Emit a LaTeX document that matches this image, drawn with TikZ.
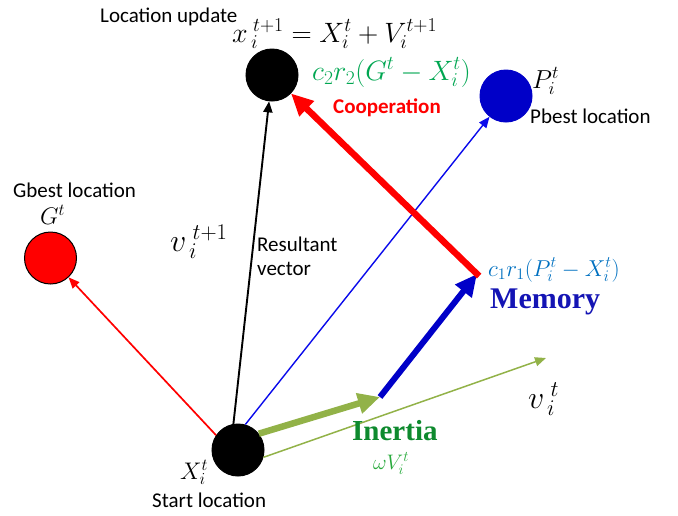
\RequirePackage{fix-cm}
\documentclass[tikz,border=0pt]{standalone}
\usepackage{fontspec}
\setmainfont{Carlito}
\newfontfamily\timesbf{Liberation Serif}
\usetikzlibrary{arrows.meta}
\definecolor{cred}{RGB}{255,0,0}
\definecolor{cbluedark}{RGB}{0,0,200}
\definecolor{cbluethin}{RGB}{10,10,235}
\definecolor{colive}{RGB}{146,178,72}
\definecolor{cgreenlab}{RGB}{0,166,81}
\definecolor{cinertia}{RGB}{14,138,46}
\definecolor{comega}{RGB}{40,170,60}
\definecolor{cmemlab}{RGB}{0,112,192}
\definecolor{cmemory}{RGB}{20,20,180}
\newcommand{\fs}[1]{\fontsize{#1}{#1}\selectfont}
\begin{document}
\begin{tikzpicture}[x=1pt,y=-1pt,
  particle/.style={circle,minimum size=52pt,inner sep=0pt,line width=1pt},
  thinarrow/.style={line width=1.7pt,-{Triangle[length=11pt,width=9pt]}},
  thickarrow/.style={line width=6.5pt,-{Triangle[length=22pt,width=20pt]}},
  sanslab/.style={inner sep=0pt,anchor=base west,font=\fs{21}},
  mathlab/.style={inner sep=0pt,anchor=base west}]
\useasboundingbox (0,0) rectangle (678,515);
% particles
\node[particle,fill=black,draw=black] (top) at (272,75) {};
\node[particle,fill=cbluedark,draw=cbluedark] (pbest) at (506,96) {};
\node[particle,fill=cred,draw=black] (gbest) at (50.5,258) {};
\node[particle,fill=black,draw=black] (start) at (238,450) {};
% helper coordinates
\coordinate (inert) at (380,397);
\coordinate (mem) at (477,274);
\coordinate (vt) at (546,358);
% thin arrows
\draw[thinarrow,cred] (start.146) -- (gbest);
\draw[thinarrow,black,line width=1.9pt] (start.100) -- (top);
\draw[thinarrow,cbluethin,line width=1.4pt] (start.74) -- (pbest);
\draw[thinarrow,colive,line width=1.5pt] (start.-16) -- (vt);
% thick arrows
\draw[thickarrow,colive] (start.38) -- (inert);
\draw[thickarrow,cbluedark,line width=6pt] (inert) -- (mem);
\draw[thickarrow,cred,shorten <=-3pt] (mem) -- (top);
% labels
\node[sanslab] (locup) at (100,22) {Location update};
\node[mathlab,font=\fs{28}] (eq) at (232,42) {$\fs{32}x^{\;t+1}_{\,i}\fs{28}=X_i^t+V_i^{t+1}$};
\node[mathlab,font=\fs{28},text=cgreenlab] (coopeq) at (312,80) {$c_2r_2(G^t-X_i^t)$};
\node[sanslab,font=\fs{21}\bfseries,text=cred] (coop) at (333,113) {Cooperation};
\node[mathlab,font=\fs{26}] (pit) at (532,88) {$P_i^t$};
\node[sanslab] (pbl) at (530,123) {Pbest location};
\node[sanslab] (gbl) at (13,197) {Gbest location};
\node[mathlab,font=\fs{24}] (gt) at (40,224) {$G^t$};
\node[mathlab,font=\fs{32}] (vnext) at (170,251) {$v^{\;t+1}_{\,i}$};
\node[sanslab] (res1) at (257,251) {Resultant};
\node[sanslab] (res2) at (257,275) {vector};
\node[mathlab,font=\fs{23},text=cmemlab] (memeq) at (488,276) {$c_1r_1(P_i^t-X_i^t)$};
\node[mathlab,font=\timesbf\bfseries\fs{30},text=cmemory] (memory) at (490,308) {Memory};
\node[mathlab,font=\fs{32}] (vcur) at (528,408) {$v^{\;t}_{\,i}$};
\node[mathlab,font=\timesbf\bfseries\fs{29},text=cinertia] (inertia) at (352,440) {Inertia};
\node[mathlab,font=\fs{21},text=comega] (omega) at (373,469) {$\omega V_i^t$};
\node[mathlab,font=\fs{24}] (xit) at (180,479) {$X_i^t$};
\node[sanslab] (startl) at (152,507) {Start location};
\end{tikzpicture}
\end{document}
